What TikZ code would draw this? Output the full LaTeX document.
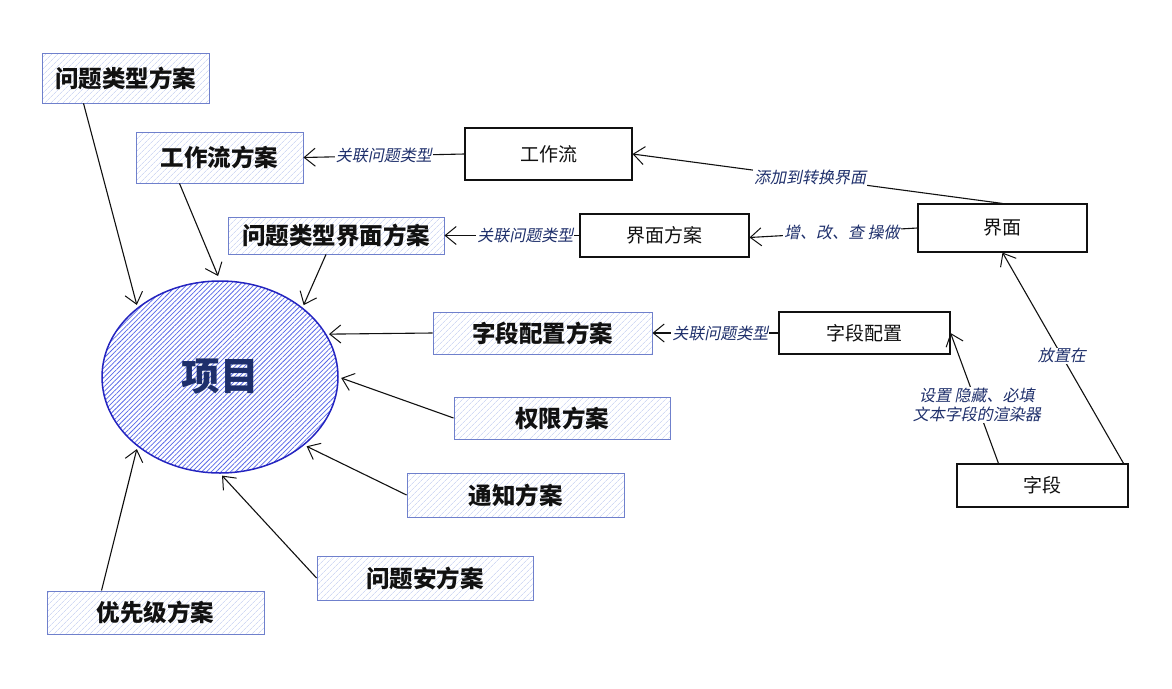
\documentclass[tikz,border=0pt]{standalone}
\usepackage{fontspec}
\setmainfont{Noto Sans CJK SC}
\newfontfamily\slfont[FakeSlant=0.2]{Noto Sans CJK SC}
\usepackage{tikz}
\usetikzlibrary{arrows.meta,patterns.meta,shapes.geometric}
\definecolor{ink}{HTML}{111111}
\definecolor{navy}{HTML}{1E2F6B}
\definecolor{schemeline}{HTML}{6F80CC}
\definecolor{schemehatch}{HTML}{D2DAF4}
\definecolor{projline}{HTML}{2424C0}
\definecolor{projhatch}{HTML}{5868E8}

\begin{document}
\begin{tikzpicture}[x=1pt, y=-1pt, line width=1pt,
    scheme/.style={draw=schemeline, line width=0.9pt, minimum height=42pt, inner sep=0pt,
      pattern={Lines[angle=45, distance=4pt, line width=0.7pt]}, pattern color=schemehatch,
      font=\fontsize{23.5}{26}\selectfont\bfseries, text=ink},
    plain/.style={draw=ink, line width=1.1pt, fill=white, minimum height=42pt, inner sep=0pt,
      font=\fontsize{19}{22}\selectfont, text=ink},
    link/.style={-{Straight Barb[length=11pt, width=18pt, line width=1pt]}, ink, line width=1.1pt},
    tolbl/.style={fill=white, inner sep=1pt, font=\fontsize{16}{19}\selectfont\slfont, text=navy, align=center}]
  \useasboundingbox (0,0) rectangle (1172,688);

  % the project in the middle
  \node[ellipse, draw=projline, line width=1.5pt, minimum width=236pt, minimum height=192pt,
    pattern={Lines[angle=45, distance=3.4pt, line width=0.75pt]}, pattern color=projhatch,
    font=\fontsize{38.5}{42}\selectfont\bfseries, text=navy] (proj) at (220,377) {项目};

  % schemes
  \node[scheme, minimum width=167pt, minimum height=50pt] (qtype)   at (125.5,78)  {问题类型方案};
  \node[scheme, minimum width=167pt, minimum height=51pt] (wfs)     at (219.5,157.5) {工作流方案};
  \node[scheme, minimum width=216pt, minimum height=37pt] (qscreen) at (336,235.5) {问题类型界面方案};
  \node[scheme, minimum width=219pt] (fcs)   at (542.5,333) {字段配置方案};
  \node[scheme, minimum width=216pt] (perm)  at (562,418)   {权限方案};
  \node[scheme, minimum width=217pt, minimum height=44pt] (notif) at (515.5,495) {通知方案};
  \node[scheme, minimum width=216pt, minimum height=44pt] (sec)   at (425,578)   {问题安方案};
  \node[scheme, minimum width=217pt, minimum height=43pt] (prio)  at (155.5,612.5) {优先级方案};

  % configuration objects
  \node[plain, minimum width=167pt, minimum height=52pt] (wf)     at (548.5,154)  {工作流};
  \node[plain, minimum width=169pt, minimum height=43pt] (scr)    at (664.5,235.5) {界面方案};
  \node[plain, minimum width=169pt, minimum height=48pt] (screen) at (1002.5,228) {界面};
  \node[plain, minimum width=171pt] (fc)    at (864.5,333)  {字段配置};
  \node[plain, minimum width=171pt, minimum height=43pt] (field) at (1042.5,485.5) {字段};

  % schemes -> project
  \draw[link, shorten >=3pt] ([xshift=-42pt]qtype.south) -- (proj.140);
  \draw[link, shorten >=5pt] ([xshift=-40pt]wfs.south) -- (proj.90);
  \draw[link, shorten >=3pt] ([xshift=-10pt]qscreen.south) -- (proj.40);
  \draw[link, shorten >=3pt] (fcs.west) -- (proj.22);
  \draw[link, shorten >=3pt] (perm.west) -- (proj.0);
  \draw[link, shorten >=3pt] (notif.west) -- (proj.-39);
  \draw[link, shorten >=3pt] (sec.west) -- (proj.-90);
  \draw[link, shorten >=3pt] ([xshift=-54pt]prio.north) -- (proj.220);

  % objects -> schemes
  \draw[link] (wf.west) -- (wfs.east) node[tolbl, pos=0.5] {关联问题类型};
  \draw[link] (scr.west) -- (qscreen.east) node[tolbl, pos=0.4] {关联问题类型};
  \draw[link] (fc.west) -- (fcs.east) node[tolbl, pos=0.46] {关联问题类型};
  \draw[link] (screen.north) -- (wf.east) node[tolbl, pos=0.52] {添加到转换界面};
  \draw[link] (screen.west) -- ([yshift=-2pt]scr.east) node[tolbl, pos=0.45] {增、改、查 操做};
  \draw[link] ([xshift=-44pt]field.north) -- (fc.east) node[tolbl, pos=0.45] {设置 隐藏、必填\\文本字段的渲染器};
  \draw[link] ([xshift=-5pt]field.north east) -- (screen.south) node[tolbl, pos=0.51] {放置在};
\end{tikzpicture}
\end{document}
